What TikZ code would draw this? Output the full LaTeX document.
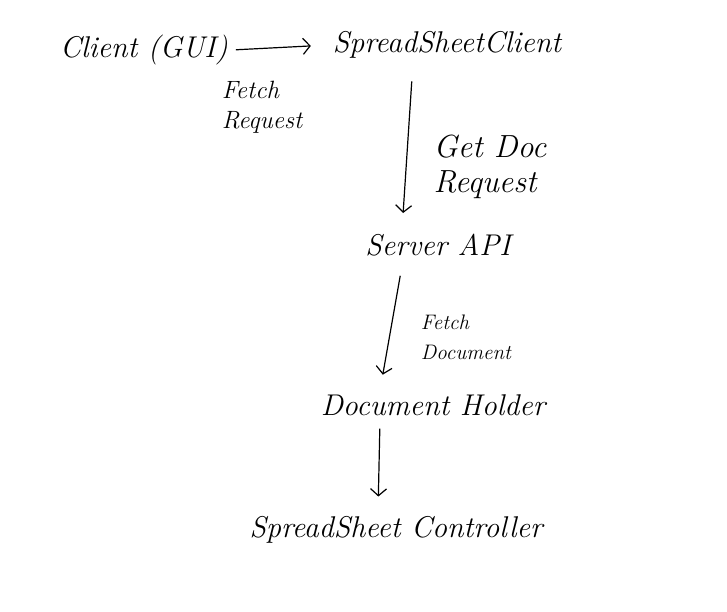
\documentclass[tikz,border=0pt]{standalone}
\usepackage{fontspec}
\usetikzlibrary{arrows.meta}
\begin{document}
\begin{tikzpicture}[x=1pt,y=1pt,
  box/.style={inner sep=0pt,outer sep=4pt,font=\fontsize{30}{32}\selectfont\itshape},
  lbl/.style={inner sep=0pt,align=left,font=\fontsize{25}{30}\selectfont\itshape},
  flow/.style={line width=1.2pt,shorten <=16pt,shorten >=16pt,-{Straight Barb[length=7pt,width=16pt]}}]
\path[use as bounding box,fill=white] (0,0) rectangle (727,611);

\node[box] (gui) at (144,561) {Client (GUI)};
\node[box] (ssc) at (447,566) {SpreadSheetClient};
\node[box] (api) at (438,366) {Server API};
\node[box] (holder) at (433,206) {Document Holder};
\node[box] (ctrl) at (396,81) {SpreadSheet Controller};

\node[lbl] (fetchreq) at (262,504) {Fetch\\Request};
\node[lbl,font=\fontsize{32}{35}\selectfont\itshape] (getdoc) at (490,444) {Get Doc\\Request};
\node[lbl,font=\fontsize{21}{30}\selectfont\itshape] (fetchdoc) at (466,274) {Fetch\\Document};

\draw[flow,shorten <=4pt,shorten >=18pt] (gui.east) -- (ssc.west);
\draw[flow,shorten <=19pt,shorten >=17pt] ([xshift=-34pt]ssc.south) -- ([xshift=-36pt]api.north);
\draw[flow] ([xshift=-35pt]api.south) -- ([xshift=-53pt]holder.north);
\draw[flow,shorten <=9pt] ([xshift=-53pt]holder.south) -- ([xshift=-18pt]ctrl.north);
\end{tikzpicture}
\end{document}
